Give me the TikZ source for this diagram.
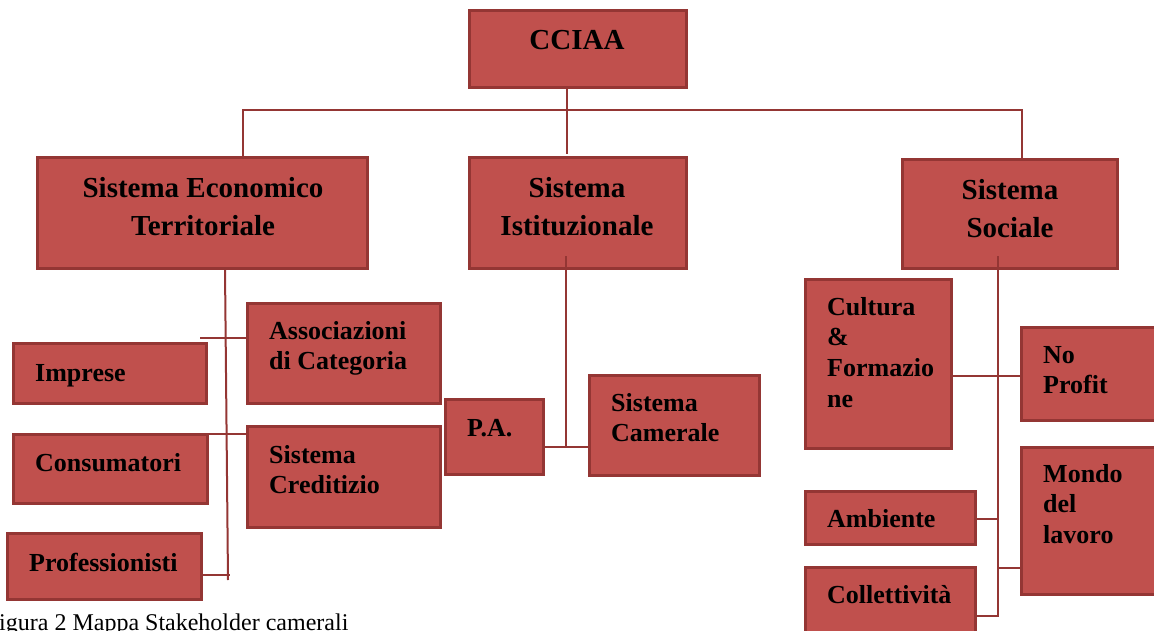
\documentclass[tikz,border=0pt]{standalone}
\usepackage{fontspec}
\setmainfont{Liberation Serif}
\usetikzlibrary{calc}
\definecolor{boxred}{HTML}{C0504D}
\definecolor{boxedge}{HTML}{943634}
\newcommand\mlL[1]{\vtop{\halign{##\hfil\cr#1\crcr}}}
\newcommand\mlC[1]{\vtop{\halign{\hfil##\hfil\cr#1\crcr}}}
\tikzset{
  box/.style={draw=boxedge, fill=boxred, line width=3pt, inner sep=0pt},
  bigtxt/.style={font=\fontsize{29}{38}\selectfont\bfseries, inner sep=0pt, anchor=base},
  smalltxt/.style={font=\fontsize{26}{30.8}\selectfont\bfseries, inner sep=0pt, anchor=base west},
  conn/.style={draw=boxedge, line width=2pt},
  captxt/.style={font=\fontsize{24}{28}\selectfont, inner sep=0pt, anchor=base west}
}
\begin{document}
\begin{tikzpicture}[x=1pt,y=-1pt]
\useasboundingbox (0,0) rectangle (1154,631);
\clip (0,0) rectangle (1154,631);
% boxes
\node[box, minimum width=217pt, minimum height=77pt] (cciaa) at (577.5,49.5) {};
\node[box, minimum width=330pt, minimum height=110pt] (eco) at (202,213) {};
\node[box, minimum width=217pt, minimum height=110pt] (ist) at (577.5,213) {};
\node[box, minimum width=215pt, minimum height=108pt] (soc) at (1009.5,214) {};
\node[box, minimum width=193pt, minimum height=60pt] (imp) at (109.5,373) {};
\node[box, minimum width=194pt, minimum height=69pt] (cons) at (110,468.5) {};
\node[box, minimum width=194pt, minimum height=66pt] (prof) at (104,566) {};
\node[box, minimum width=193pt, minimum height=100pt] (assoc) at (343.5,353) {};
\node[box, minimum width=193pt, minimum height=101pt] (cred) at (343.5,476.5) {};
\node[box, minimum width=98pt, minimum height=75pt] (pa) at (494,436.5) {};
\node[box, minimum width=170pt, minimum height=100pt] (cam) at (674,425) {};
\node[box, minimum width=146pt, minimum height=169pt] (cult) at (878,363.5) {};
\node[box, minimum width=149pt, minimum height=93pt] (nop) at (1095.5,373.5) {};
\node[box, minimum width=149pt, minimum height=147pt] (mondo) at (1095.5,520.5) {};
\node[box, minimum width=170pt, minimum height=53pt] (amb) at (890,517.5) {};
\node[box, minimum width=170pt, minimum height=83pt] (coll) at (890,608.5) {};
% texts
\node[bigtxt] (tcciaa) at (577,50) {CCIAA};
\node[bigtxt] (teco) at (203,198) {\mlC{Sistema Economico\cr Territoriale}};
\node[bigtxt] (tist) at (577,198) {\mlC{Sistema\cr Istituzionale}};
\node[bigtxt] (tsoc) at (1010,200) {\mlC{Sistema\cr Sociale}};
\node[smalltxt] (timp) at (35,381) {Imprese};
\node[smalltxt] (tcons) at (35,471) {Consumatori};
\node[smalltxt] (tprof) at (29,571) {Professionisti};
\node[smalltxt] (tassoc) at (269,339) {\mlL{Associazioni\cr di Categoria}};
\node[smalltxt] (tcred) at (269,463) {\mlL{Sistema\cr Creditizio}};
\node[smalltxt] (tpa) at (467,436) {P.A.};
\node[smalltxt] (tcam) at (611,411) {\mlL{Sistema\cr Camerale}};
\node[smalltxt] (tcult) at (827,315) {\mlL{Cultura\cr \&\cr Formazio\cr ne}};
\node[smalltxt] (tnop) at (1043,363) {\mlL{No\cr Profit}};
\node[smalltxt] (tmondo) at (1043,482) {\mlL{Mondo\cr del\cr lavoro}};
\node[smalltxt] (tamb) at (827,527) {Ambiente};
\node[smalltxt] (tcoll) at (827,603) {Collettività};
\node[captxt] (cap) at (-1,630) {igura 2 Mappa Stakeholder camerali};
% connectors
\coordinate (jc) at (567,110);
\coordinate (jl) at (243,110);
\coordinate (jr) at (1022,110);
\draw[conn] (cciaa.south -| jc) -- (jc) -- ($(ist.north -| jc)+(0,-2)$);
\draw[conn] (eco.north -| jl) -- (jl) -- (jr) -- (soc.north -| jr);
\coordinate (el) at (228,580);
\draw[conn] ($(eco.south)+(23,0)$) -- (el);
\coordinate (t1) at (200,338);
\draw[conn] (t1) -- (assoc.west |- t1);
\coordinate (t2) at (200,434);
\draw[conn] (t2) -- (cred.west |- t2);
\coordinate (t3) at (230,575);
\draw[conn] (prof.east |- t3) -- (t3);
\coordinate (mi) at (566,447);
\draw[conn] ($(ist.south -| mi)+(0,-13)$) -- (mi);
\draw[conn] (pa.east |- mi) -- (cam.west |- mi);
\coordinate (rs) at (998,616);
\draw[conn] ($(soc.south -| rs)+(0,-13)$) -- (rs) -- (coll.east |- rs);
\coordinate (r1) at (0,376);
\draw[conn] (cult.east |- r1) -- (nop.west |- r1);
\coordinate (r3) at (0,519);
\draw[conn] (amb.east |- r3) -- (rs |- r3);
\coordinate (r2) at (0,568);
\draw[conn] (rs |- r2) -- (mondo.west |- r2);
\end{tikzpicture}
\end{document}
